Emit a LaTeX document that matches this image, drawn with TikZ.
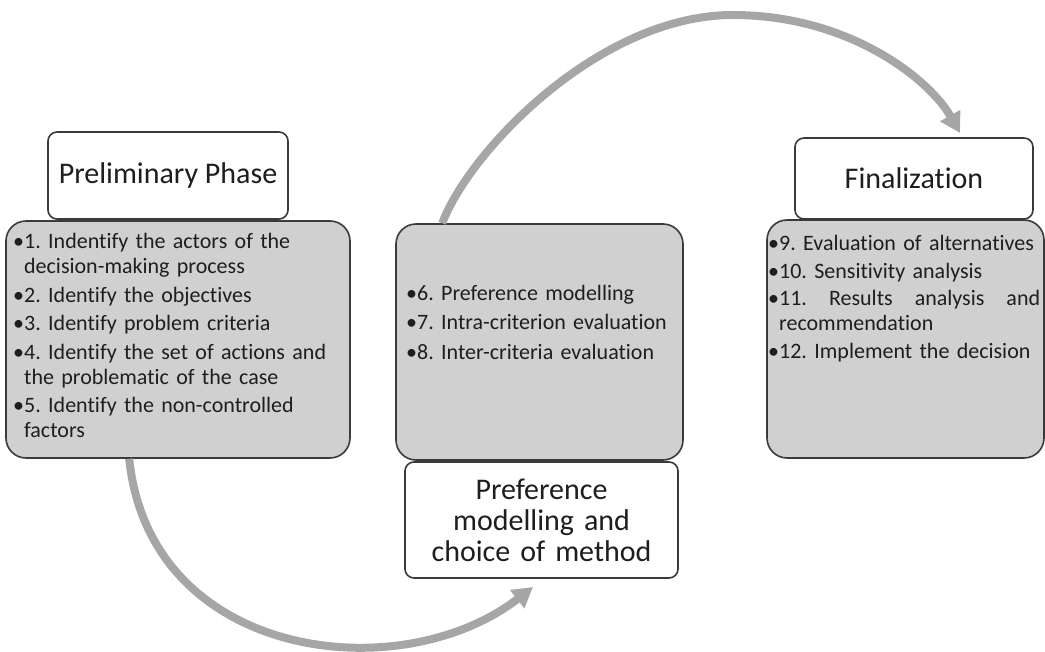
\documentclass[tikz,border=0pt]{standalone}
\usepackage{fontspec}
\setmainfont{Carlito}[Ligatures=NoCommon]
\usetikzlibrary{arrows.meta}
\definecolor{boxgray}{HTML}{D0D0D0}
\definecolor{arrowgray}{HTML}{A6A6A6}
\definecolor{edgecol}{HTML}{3A3A3A}
\definecolor{ink}{HTML}{1E1E1E}
\newcommand\bitem[1]{\par\setbox0=\hbox{•}\hangindent=\wd0 \hangafter=1 \noindent\box0 #1\par}
\tikzset{
  graybox/.style={draw=edgecol, line width=1.6pt, fill=boxgray, rounded corners=20pt, inner sep=0pt},
  headbox/.style={draw=edgecol, line width=1.6pt, fill=white, rounded corners=9pt, inner sep=0pt,
    text=ink, font=\fontsize{30}{31}\selectfont, align=center},
  bullets/.style={anchor=north west, inner sep=0pt, text width=#1, align=left, text=ink,
    font=\fontsize{22}{25}\selectfont\frenchspacing},
  flow/.style={draw=arrowgray, line width=8pt, -{Triangle[length=20pt,width=22pt]}}
}
\begin{document}
\begin{tikzpicture}[x=1pt,y=-1pt]
\useasboundingbox (0,0) rectangle (1045,652);
% boxes
\node[graybox, minimum width=344pt, minimum height=237pt] (lgray) at (178,339.5) {};
\node[graybox, minimum width=287pt, minimum height=236pt] (mgray) at (539.5,342) {};
\node[graybox, minimum width=277pt, minimum height=238pt] (rgray) at (905.5,339) {};
\node[headbox, minimum width=240pt, minimum height=87pt] (lhead) at (168,175.5) {Preliminary Phase};
\node[headbox, minimum width=273pt, minimum height=116pt, text width=265pt] (mhead) at (541.5,520) {Preference\\modelling and\\choice of method};
\node[headbox, minimum width=238pt, minimum height=81pt] (rhead) at (914,178.5) {Finalization};
% texts
\node[bullets=336pt] (ltext) at (13,220) {\setlength\parskip{3.5pt}%
\bitem{1. Indentify the actors of the\newline decision-making process}
\bitem{2. Identify the objectives}
\bitem{3. Identify problem criteria}
\bitem{4. Identify the set of actions and\newline the problematic of the case}
\bitem{5. Identify the non-controlled\newline factors}};
\node[bullets=275pt] (mtext) at (406,270.5) {\setlength\parskip{4.5pt}%
\bitem{6. Preference modelling}
\bitem{7. Intra-criterion evaluation}
\bitem{8. Inter-criteria evaluation}};
\node[bullets=272pt] (rtext) at (768,223) {\setlength\parskip{2.5pt}%
\bitem{9. Evaluation of alternatives}
\bitem{10. Sensitivity analysis}
\bitem{11.\hfill Results\hfill analysis\hfill and\newline recommendation}
\bitem{12. Implement the decision}};
% connectors
\coordinate (tip1) at (533,587);
\coordinate (apex) at (733,15);
\coordinate (tip2) at (960,133);
\draw[flow] ([xshift=124pt]lgray.south west) .. controls (150,660) and (400,690) .. (tip1);
\draw[flow] ([xshift=47pt]mgray.north west) .. controls (470,150) and (600,15) .. (apex)
  .. controls (850,15) and (930,80) .. (tip2);
\end{tikzpicture}
\end{document}
